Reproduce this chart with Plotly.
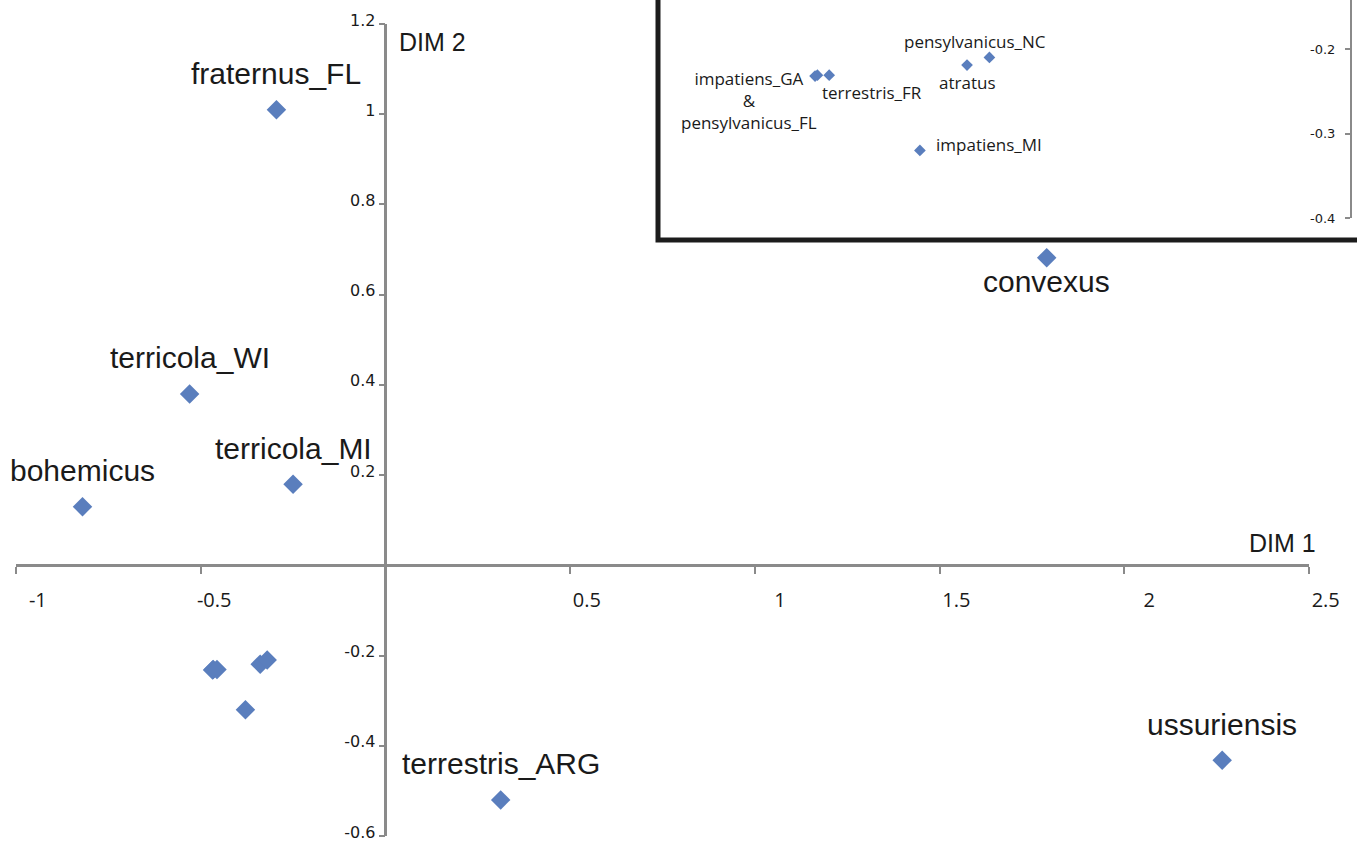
import plotly.graph_objects as go

# ---------------- data ----------------
main_names = ["fraternus_FL", "convexus", "terricola_WI", "terricola_MI",
              "bohemicus", "terrestris_ARG", "ussuriensis"]
main_dim1 = [-0.295, 1.790, -0.530, -0.250, -0.820, 0.312, 2.265]
main_dim2 = [1.010, 0.682, 0.380, 0.180, 0.130, -0.520, -0.432]

cluster_names = ["impatiens_GA", "pensylvanicus_FL", "terrestris_FR",
                 "atratus", "pensylvanicus_NC", "impatiens_MI"]
cluster_dim1 = [-0.466, -0.468, -0.456, -0.339, -0.320, -0.379]
cluster_dim2 = [-0.231, -0.232, -0.231, -0.219, -0.210, -0.320]

x_tickvals = [-1, -0.5, 0.5, 1, 1.5, 2, 2.5]
x_ticktext = ["-1", "-0.5", "0.5", "1", "1.5", "2", "2.5"]
y_tickvals = [-0.6, -0.4, -0.2, 0.2, 0.4, 0.6, 0.8, 1, 1.2]
y_ticktext = ["-0.6", "-0.4", "-0.2", "0.2", "0.4", "0.6", "0.8", "1", "1.2"]
inset_y_tickvals = [-0.4, -0.3, -0.2]
inset_y_ticktext = ["-0.4", "-0.3", "-0.2"]

# ---------------- layout geometry ----------------
W, H = 1357, 844
XR = [-1, 2.5]
YR = [-0.6, 1.2]
XD = [16 / W, 1309 / W]
YD = [(H - 836) / H, (H - 24) / H]
x_zero_pos = XD[0] + (0 - XR[0]) / (XR[1] - XR[0]) * (XD[1] - XD[0])
y_zero_pos = YD[0] + (0 - YR[0]) / (YR[1] - YR[0]) * (YD[1] - YD[0])

IXD = [656 / W, 1.0]
IYD = [(H - 218) / H, 1.0]
IXR = [-0.603, -0.008]
IYR = [-0.4, -0.142]

MARKER = "#5A7EBD"
AXIS = "#8A8A8A"
TXT = "#1a1a1a"

fig = go.Figure()
fig.add_trace(go.Scatter(
    x=main_dim1 + cluster_dim1, y=main_dim2 + cluster_dim2, mode="markers",
    marker=dict(symbol="diamond", size=15, color=MARKER, line=dict(width=0)),
    xaxis="x", yaxis="y", hoverinfo="skip", cliponaxis=False))
fig.add_trace(go.Scatter(
    x=cluster_dim1, y=cluster_dim2, mode="markers",
    marker=dict(symbol="diamond", size=9, color=MARKER, line=dict(width=0)),
    xaxis="x2", yaxis="y2", hoverinfo="skip"))

annotations = []
big_font = dict(family="Liberation Sans, Arial, sans-serif", size=30, color=TXT)
for n, x, y in zip(main_names, main_dim1, main_dim2):
    shift = -24 if n == "convexus" else 36
    annotations.append(dict(x=x, y=y, xref="x", yref="y", text=n, showarrow=False,
                            xanchor="center", yanchor="middle", yshift=shift, font=big_font))

small_font = dict(family="Open Sans, sans-serif", size=17, color=TXT)
inset_label_cfg = {
    "impatiens_GA": ("impatiens_GA<br>&<br>pensylvanicus_FL", "center", -68, -25),
    "terrestris_FR": ("terrestris_FR", "left", -9, -17),
    "atratus": ("atratus", "center", 0, -17),
    "pensylvanicus_NC": ("pensylvanicus_NC", "center", -14, 16),
    "impatiens_MI": ("impatiens_MI", "left", 14, 6),
}
for n, x, y in zip(cluster_names, cluster_dim1, cluster_dim2):
    if n not in inset_label_cfg:
        continue
    text, xa, xs, ys = inset_label_cfg[n]
    annotations.append(dict(x=x, y=y, xref="x2", yref="y2", text=text, showarrow=False,
                            xanchor=xa, yanchor="middle", xshift=xs, yshift=ys,
                            font=small_font, align="center"))

dim_font = dict(family="Liberation Sans, Arial, sans-serif", size=25, color=TXT)
annotations.append(dict(x=0, y=YR[1], xref="x", yref="y", text="DIM 2", showarrow=False,
                        xanchor="left", yanchor="middle", xshift=12, yshift=-18, font=dim_font))
annotations.append(dict(x=XR[1], y=0, xref="x", yref="y", text="DIM 1", showarrow=False,
                        xanchor="right", yanchor="middle", xshift=9, yshift=22, font=dim_font))

fig.update_layout(
    width=W, height=H, margin=dict(l=0, r=0, t=0, b=0, pad=0),
    paper_bgcolor="white", plot_bgcolor="rgba(0,0,0,0)", showlegend=False,
    xaxis=dict(domain=XD, range=XR, anchor="free", position=y_zero_pos, automargin=False,
               showline=True, linecolor=AXIS, linewidth=2.5, showgrid=False, zeroline=False,
               ticks="outside", ticklen=7, tickwidth=2, tickcolor=AXIS,
               tickmode="array", tickvals=x_tickvals, ticktext=x_ticktext,
               tickfont=dict(family="Open Sans, sans-serif", size=20, color=TXT),
               ticklabelposition="outside left", ticklabelshift=33, ticklabelstandoff=16,
               ticklabeloverflow="allow"),
    yaxis=dict(domain=YD, range=YR, anchor="free", position=x_zero_pos, automargin=False,
               showline=True, linecolor=AXIS, linewidth=2.5, showgrid=False, zeroline=False,
               ticks="outside", ticklen=6, tickwidth=2, tickcolor=AXIS,
               tickmode="array", tickvals=y_tickvals, ticktext=y_ticktext,
               tickfont=dict(family="DejaVu Sans, sans-serif", size=16, color=TXT),
               ticklabelshift=-4, ticklabeloverflow="allow"),
    xaxis2=dict(domain=IXD, range=IXR, anchor="y2", visible=False, automargin=False),
    yaxis2=dict(domain=IYD, range=IYR, anchor="free", position=1351 / W, automargin=False,
                showline=True, linecolor=AXIS, linewidth=2, showgrid=False, zeroline=False,
                ticks="outside", ticklen=5, tickwidth=2, tickcolor=AXIS,
                tickmode="array", tickvals=inset_y_tickvals, ticktext=inset_y_ticktext,
                tickfont=dict(family="DejaVu Sans, sans-serif", size=13, color=TXT),
                ticklabelstandoff=7, ticklabeloverflow="allow"),
    annotations=annotations,
    shapes=[dict(type="rect", xref="paper", yref="paper",
                 x0=658 / W, x1=1.05, y0=(H - 240) / H, y1=1.05,
                 line=dict(color="#1c1c1c", width=5), fillcolor="rgba(0,0,0,0)")],
)

fig.write_html("out.html", config={"displayModeBar": False},
               post_script="document.body.style.margin='0px';")
